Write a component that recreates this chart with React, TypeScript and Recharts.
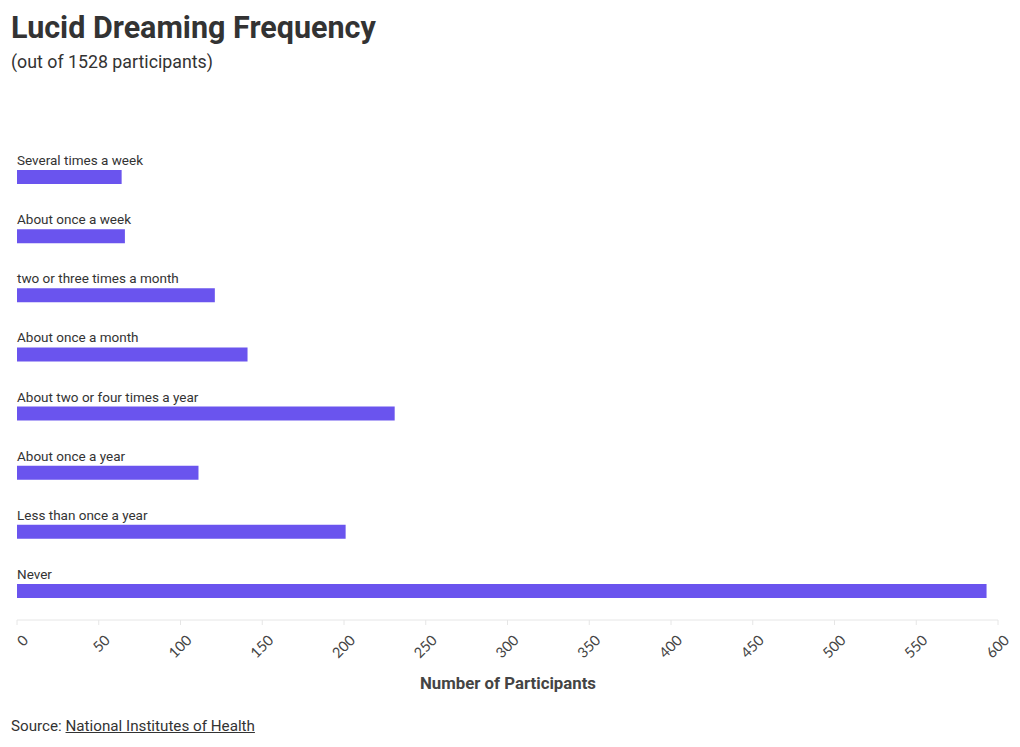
import { BarChart, Bar, XAxis, YAxis, LabelList } from 'recharts';

const categories = [
  'Several times a week',
  'About once a week',
  'two or three times a month',
  'About once a month',
  'About two or four times a year',
  'About once a year',
  'Less than once a year',
  'Never',
];
const participants = [64, 66, 121, 141, 231, 111, 201, 593];
const xTicks = [0, 50, 100, 150, 200, 250, 300, 350, 400, 450, 500, 550, 600];

const FONT = 'Roboto, "Noto Sans", sans-serif';
const BAR_COLOR = '#6a54ee';

const data = categories.map((name, i) => ({ name, value: participants[i] }));

function AxisTick(props: any) {
  const { x, y, payload } = props;
  return (
    <g transform={`translate(${x + 5},${y + 7})`}>
      <text
        transform="rotate(-45)"
        textAnchor="end"
        dy="0.7em"
        fontSize={14.5}
        fill="#444"
        fontFamily="Lato, sans-serif"
      >
        {payload.value}
      </text>
    </g>
  );
}

function CategoryLabel(props: any) {
  const { y, value } = props;
  return (
    <text x={17} y={y - 5} fontSize={13.5} fill="#333" fontFamily={FONT}>
      {value}
    </text>
  );
}

export default function App() {
  return (
    <div style={{ position: 'absolute', left: 0, top: 0, width: 1020, height: 747, background: '#fff', fontFamily: FONT }}>
      <div style={{ position: 'absolute', left: 11, top: 10, fontSize: 30.5, fontWeight: 700, color: '#333' }}>
        Lucid Dreaming Frequency
      </div>
      <div style={{ position: 'absolute', left: 11, top: 51, fontSize: 17.8, color: '#333' }}>
        (out of 1528 participants)
      </div>
      <div style={{ position: 'absolute', left: 0, top: 0 }}>
        <BarChart
          width={1020}
          height={747}
          data={data}
          layout="vertical"
          margin={{ top: 147, right: 22, bottom: 67, left: 17 }}
        >
          <XAxis
            type="number"
            domain={[0, 600]}
            ticks={xTicks}
            axisLine={{ stroke: '#e6e6e6' }}
            tickLine={{ stroke: '#e6e6e6' }}
            tickSize={5}
            tick={<AxisTick />}
            height={60}
          />
          <YAxis type="category" dataKey="name" hide />
          <Bar dataKey="value" fill={BAR_COLOR} barSize={14} isAnimationActive={false}>
            <LabelList dataKey="name" content={<CategoryLabel />} />
          </Bar>
        </BarChart>
      </div>
      <div style={{ position: 'absolute', left: 0, width: 1016, top: 673, textAlign: 'center', fontSize: 16.8, fontWeight: 700, color: '#444' }}>
        Number of Participants
      </div>
      <div style={{ position: 'absolute', left: 11, top: 717, fontSize: 15.2, color: '#333' }}>
        Source: <span style={{ textDecoration: 'underline' }}>National Institutes of Health</span>
      </div>
    </div>
  );
}
